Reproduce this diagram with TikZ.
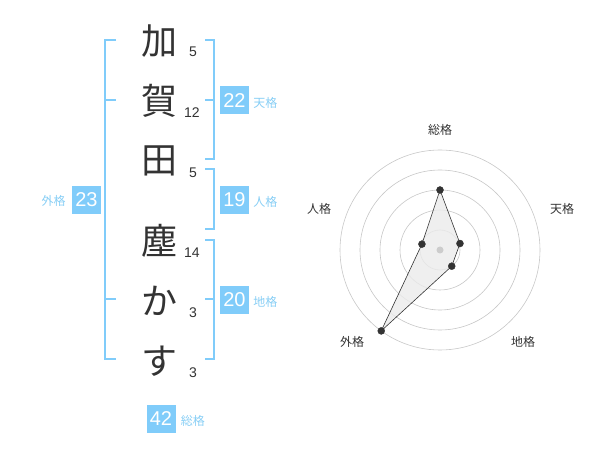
\documentclass[tikz,border=0pt]{standalone}
\usepackage{fontspec}
\setmainfont{Liberation Sans}
\newfontfamily\jpfont{Noto Sans CJK JP}
\definecolor{kakublue}{RGB}{128,204,250}
\definecolor{kakutext}{RGB}{135,206,245}
\definecolor{ink}{RGB}{51,51,51}
\tikzset{
	kanji/.style={font=\jpfont\fontsize{36}{36}\selectfont, text=ink, inner sep=0pt},
	strokes/.style={font=\fontsize{14}{14}\selectfont, text=ink, inner sep=0pt},
	kakubox/.style={fill=kakublue, text=white, minimum width=29pt, minimum height=28pt, inner sep=0pt, font=\fontsize{20}{20}\selectfont},
	kakuname/.style={text=kakutext, font=\jpfont\fontsize{12}{12}\selectfont, inner sep=0pt},
	bracket/.style={draw=kakublue, line width=2.2pt},
	ring/.style={draw=black!22, line width=0.6pt},
	axisname/.style={font=\jpfont\fontsize{12}{12}\selectfont, text=ink, inner sep=0pt}
}
\begin{document}
\begin{tikzpicture}[x=1pt,y=-1pt]
			\useasboundingbox (0,0) rectangle (600,470);
			\node[kanji] (c1) at (159,41) {加};
			\node[kanji] (c2) at (159,101) {賀};
			\node[kanji] (c3) at (159,161) {田};
			\node[kanji] (c4) at (159,241) {塵};
			\node[kanji] (c5) at (159,301) {か};
			\node[kanji] (c6) at (159,361) {す};
			\node[strokes] (s1) at (193,52) {5};
			\node[strokes] (s2) at (192,113) {12};
			\node[strokes] (s3) at (193,173) {5};
			\node[strokes] (s4) at (192,253) {14};
			\node[strokes] (s5) at (193,313) {3};
			\node[strokes] (s6) at (193,373) {3};
			\draw[bracket] (116,40)--(105,40)--(105,359)--(116,359);
			\draw[bracket] (105,100)--(116,100);
			\draw[bracket] (105,299)--(116,299);
			\draw[bracket] (205,40)--(214,40)--(214,159)--(205,159);
			\draw[bracket] (205,100)--(214,100);
			\draw[bracket] (205,169)--(214,169)--(214,229)--(205,229);
			\draw[bracket] (205,240)--(214,240)--(214,359)--(205,359);
			\draw[bracket] (205,299)--(214,299);
			\node[kakubox] (ten) at (234.5,100.5) {22};
			\node[kakubox] (jin) at (234.5,200) {19};
			\node[kakubox] (chi) at (234.5,300) {20};
			\node[kakubox] (gai) at (86.5,200) {23};
			\node[kakubox] (sou) at (161,419) {42};
			\node[kakuname, anchor=west] at ([xshift=4pt,yshift=-2pt]ten.east) {天格};
			\node[kakuname, anchor=west] at ([xshift=4pt,yshift=-2pt]jin.east) {人格};
			\node[kakuname, anchor=west] at ([xshift=4pt,yshift=-2pt]chi.east) {地格};
			\node[kakuname, anchor=east] at ([xshift=-6pt,yshift=-1pt]gai.west) {外格};
			\node[kakuname, anchor=west] at ([xshift=5pt,yshift=-2pt]sou.east) {総格};
			\coordinate (o) at (440,250);
			\foreach \r in {20,40,60,80,100}
				\draw[ring] (o) circle(\r pt);
			\coordinate (p1) at ([shift={(-90:60)}]o);
			\coordinate (p2) at ([shift={(-18:21)}]o);
			\coordinate (p3) at ([shift={(54:20)}]o);
			\coordinate (p4) at ([shift={(126:100)}]o);
			\coordinate (p5) at ([shift={(198:19)}]o);
			\filldraw[fill=black!8, fill opacity=0.8, draw=ink, line width=0.6pt] (p1)--(p2)--(p3)--(p4)--(p5)--cycle;
			\fill[black!20] (o) circle(3.5pt);
			\foreach \p in {p1,p2,p3,p4,p5}
				\filldraw[ink] (\p) circle(3.5pt);
			\node[axisname] (a1) at (440,130) {総格};
			\node[axisname] (a2) at (562,209) {天格};
			\node[axisname] (a3) at (523,342) {地格};
			\node[axisname] (a4) at (352,342) {外格};
			\node[axisname] (a5) at (319,209) {人格};
		\end{tikzpicture}
\end{document}
